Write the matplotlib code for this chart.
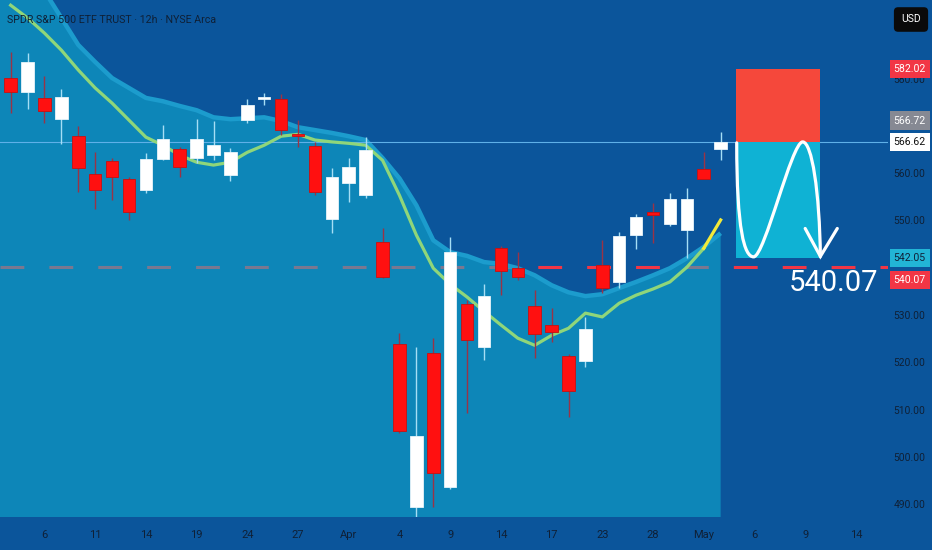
import numpy as np
import matplotlib
matplotlib.use("Agg")
import matplotlib.pyplot as plt
from matplotlib.path import Path
from matplotlib.patches import PathPatch, Rectangle

plt.rcParams['font.family'] = ['Roboto', 'DejaVu Sans']

# --------------------------
# Data (12h bars, SPY)
# --------------------------
opens = [580.1, 577.1, 575.9, 571.4, 567.8, 559.8, 562.5, 558.7, 556.4, 563.0,
         565.1, 563.2, 563.8, 559.6, 571.2, 575.7, 575.6, 568.1, 565.7, 550.3,
         557.9, 555.3, 545.4, 523.8, 489.4, 521.9, 493.6, 532.3, 523.2, 544.1,
         539.9, 531.9, 527.9, 521.3, 520.3, 540.5, 537.0, 546.9, 551.8, 549.2,
         547.9, 560.8, 565.1]
highs = [585.6, 585.4, 580.5, 577.8, 569.9, 564.4, 563.2, 559.2, 564.2, 570.1,
         565.6, 571.4, 571.0, 565.3, 575.6, 576.9, 576.7, 571.2, 566.6, 561.0,
         563.2, 567.6, 548.4, 526.2, 523.2, 525.1, 546.5, 533.2, 536.5, 544.6,
         543.3, 535.3, 531.5, 521.8, 529.6, 545.8, 547.5, 551.3, 553.7, 555.8,
         556.8, 564.4, 568.7]
lows = [572.7, 573.5, 570.6, 566.1, 556.0, 552.4, 554.3, 550.1, 555.8, 562.7,
        559.2, 562.1, 562.7, 558.3, 570.6, 574.4, 568.0, 565.5, 555.3, 547.3,
        553.9, 554.8, 537.8, 505.0, 487.3, 489.4, 493.2, 509.3, 520.5, 534.2,
        537.4, 520.9, 524.3, 508.4, 519.0, 534.6, 535.7, 543.9, 545.2, 548.8,
        542.0, 558.7, 562.7]
closes = [577.1, 583.5, 573.1, 576.1, 561.1, 556.4, 559.2, 551.8, 563.0, 567.2,
          561.3, 567.2, 565.9, 564.4, 574.4, 575.9, 569.1, 567.9, 556.0, 559.2,
          561.3, 564.9, 538.0, 505.5, 504.4, 496.6, 543.3, 524.7, 534.0, 539.3,
          538.0, 526.0, 526.4, 513.9, 527.0, 535.7, 546.7, 550.7, 551.1, 554.5,
          554.5, 558.7, 566.6]

ema = [595.5, 592.8, 589.6, 586.0, 581.8, 578.0, 574.8, 571.2, 567.6, 565.9,
       563.8, 562.3, 561.7, 562.3, 564.4, 565.9, 567.8, 568.2, 567.0, 566.6,
       566.3, 565.9, 562.7, 555.3, 546.9, 539.9, 536.5, 533.8, 530.8, 527.9,
       525.1, 523.6, 525.7, 527.2, 530.4, 529.6, 532.5, 534.2, 535.5, 537.0,
       540.1, 544.1, 550.1]

band_upper = [604.0, 601.0, 598.5, 592.8, 587.1, 583.5, 580.1, 578.0, 575.9, 575.2,
              574.2, 573.3, 571.8, 571.4, 571.6, 571.8, 571.0, 569.7, 569.1, 568.5,
              567.8, 567.0, 563.2, 558.9, 553.2, 545.8, 543.3, 542.5, 541.2, 540.8,
              539.9, 538.4, 536.3, 534.8, 534.0, 534.4, 535.7, 537.0, 538.4, 539.9,
              542.0, 544.4, 547.3]

tick_pos = [2, 5, 8, 11, 14, 17, 20, 23, 26, 29, 32, 35, 38, 41, 44, 47, 50]
tick_labels = ['6', '11', '14', '19', '24', '27', 'Apr', '4', '9', '14', '17',
               '23', '28', 'May', '6', '9', '14']
# 540 and 570 sit under the price tags, so they are not shown
price_ticks = [490, 500, 510, 520, 530, 550, 560, 580]

last_price = 566.62
target_price = 542.05
stop_price = 582.02
level_price = 540.07

# price tags: value, background, text colour, vertical shift (pt)
tags = [(582.02, '#f23645', 'white', 0),
        (566.72, '#868993', 'white', 15),
        (566.62, '#ffffff', '#111111', 0),
        (542.05, '#22b5d6', '#10223a', 0),
        (540.07, '#f23645', 'white', -9)]

# trade drawing (bar, price)
box_x0, box_x1 = 42.9, 47.9
curve_pts = [(42.95, 566.4), (42.95, 548.0), (43.4, 542.3), (43.95, 542.3),
             (44.6, 542.3), (46.2, 566.6), (46.85, 566.6),
             (47.4, 566.6), (47.85, 556.0), (47.9, 542.4)]
arrow_pts = [(47.0, 548.3), (47.9, 542.4), (48.9, 548.3)]

# --------------------------
# Colours
# --------------------------
bg = '#0b559b'
fill_c = '#10b3d3'
edge_c = '#1c9ccd'
txt_c = '#0f2036'

fig = plt.figure(figsize=(9.32, 5.5), dpi=100)
fig.patch.set_facecolor(bg)
ax = fig.add_axes([0, 0.06, 0.9528, 0.94])
ax.set_facecolor(bg)
for s in ax.spines.values():
    s.set_visible(False)

x_left, x_right = -0.63, 51.9
ax.set_xlim(x_left, x_right)
ax.set_ylim(487.3, 596.6)

bars = np.arange(len(closes))
o = np.array(opens)
c = np.array(closes)
h = np.array(highs)
l = np.array(lows)
up = c >= o

# dashed level line (under the fill)
ax.axhline(level_price, color='#f23645', lw=2.2, dashes=(7.8, 8.2), zorder=1)

# shaded band
fx = np.r_[x_left, bars]
fy = np.r_[band_upper[0], band_upper]
ax.fill_between(fx, fy, 480, color=fill_c, alpha=0.53, lw=0, zorder=2)
ax.plot(fx, fy, color=edge_c, lw=3.2, zorder=2.5, solid_capstyle='butt')

# last price line
ax.axhline(last_price, color='#5fb0e8', lw=0.8, zorder=3)

# EMA
ax.plot(bars[:-1], ema[:-1], color='#8fd67a', lw=2.3, zorder=4, solid_joinstyle='round')
ax.plot(bars[-2:], ema[-2:], color='#f2ea3a', lw=2.3, zorder=4)

# candles
wick_cols = np.where(up, '#a6def5', '#9a3346')
ax.vlines(bars, l, h, colors=wick_cols, lw=1, zorder=5)
body_h = np.maximum(np.abs(c - o), 0.3)
body_cols = np.where(up, '#ffffff', '#ff1010')
ax.bar(bars, body_h, bottom=np.minimum(o, c), width=0.74, color=body_cols,
       edgecolor=np.where(up, '#e8f4fa', '#c81010'), lw=0.6, zorder=6)

# trade box
ax.add_patch(Rectangle((box_x0, last_price), box_x1 - box_x0, stop_price - last_price,
                       fc='#f5483b', ec='none', zorder=7))
ax.add_patch(Rectangle((box_x0, target_price), box_x1 - box_x0, last_price - target_price,
                       fc='#0fb2d4', ec='none', zorder=7))
codes = [Path.MOVETO] + [Path.CURVE4] * 9
ax.add_patch(PathPatch(Path(curve_pts, codes), fc='none', ec='white', lw=2.3,
                       capstyle='round', zorder=8))
ax.plot([p[0] for p in arrow_pts], [p[1] for p in arrow_pts], color='white',
        lw=2.3, solid_capstyle='round', solid_joinstyle='miter', zorder=8)

ax.text(48.7, 539.8, f"{level_price:.2f}", color='white', fontsize=21,
        ha='center', va='top', zorder=9)

# title
ax.text(0.008, 0.961, "SPDR S&P 500 ETF TRUST · 12h · NYSE Arca", transform=ax.transAxes,
        color=txt_c, fontsize=7.7, ha='left', va='center', zorder=12)

# axes
ax.set_xticks(tick_pos, tick_labels)
ax.tick_params(axis='x', length=0, pad=9, labelsize=8, labelcolor=txt_c)
ax.yaxis.tick_right()
ax.set_yticks(price_ticks, [f"{v:.2f}" for v in price_ticks])
ax.tick_params(axis='y', length=0, pad=4, labelsize=7.4, labelcolor=txt_c)

for val, fc, tc, dy in tags:
    ax.annotate(f"{val:.2f}", xy=(1, val), xycoords=('axes fraction', 'data'),
                xytext=(4.0, dy), textcoords='offset points', ha='left', va='center',
                fontsize=7.6, color=tc, zorder=10, annotation_clip=False,
                bbox=dict(boxstyle='square,pad=0.38', fc=fc, ec='none'))

fig.text(911 / 932, 1 - 19.5 / 550, "USD", color='white', fontsize=7.5,
         ha='center', va='center',
         bbox=dict(boxstyle='round,pad=0.7,rounding_size=0.4', fc='#0a0a0a', ec='none'))

fig.savefig("out.png", dpi=100, facecolor=bg)
